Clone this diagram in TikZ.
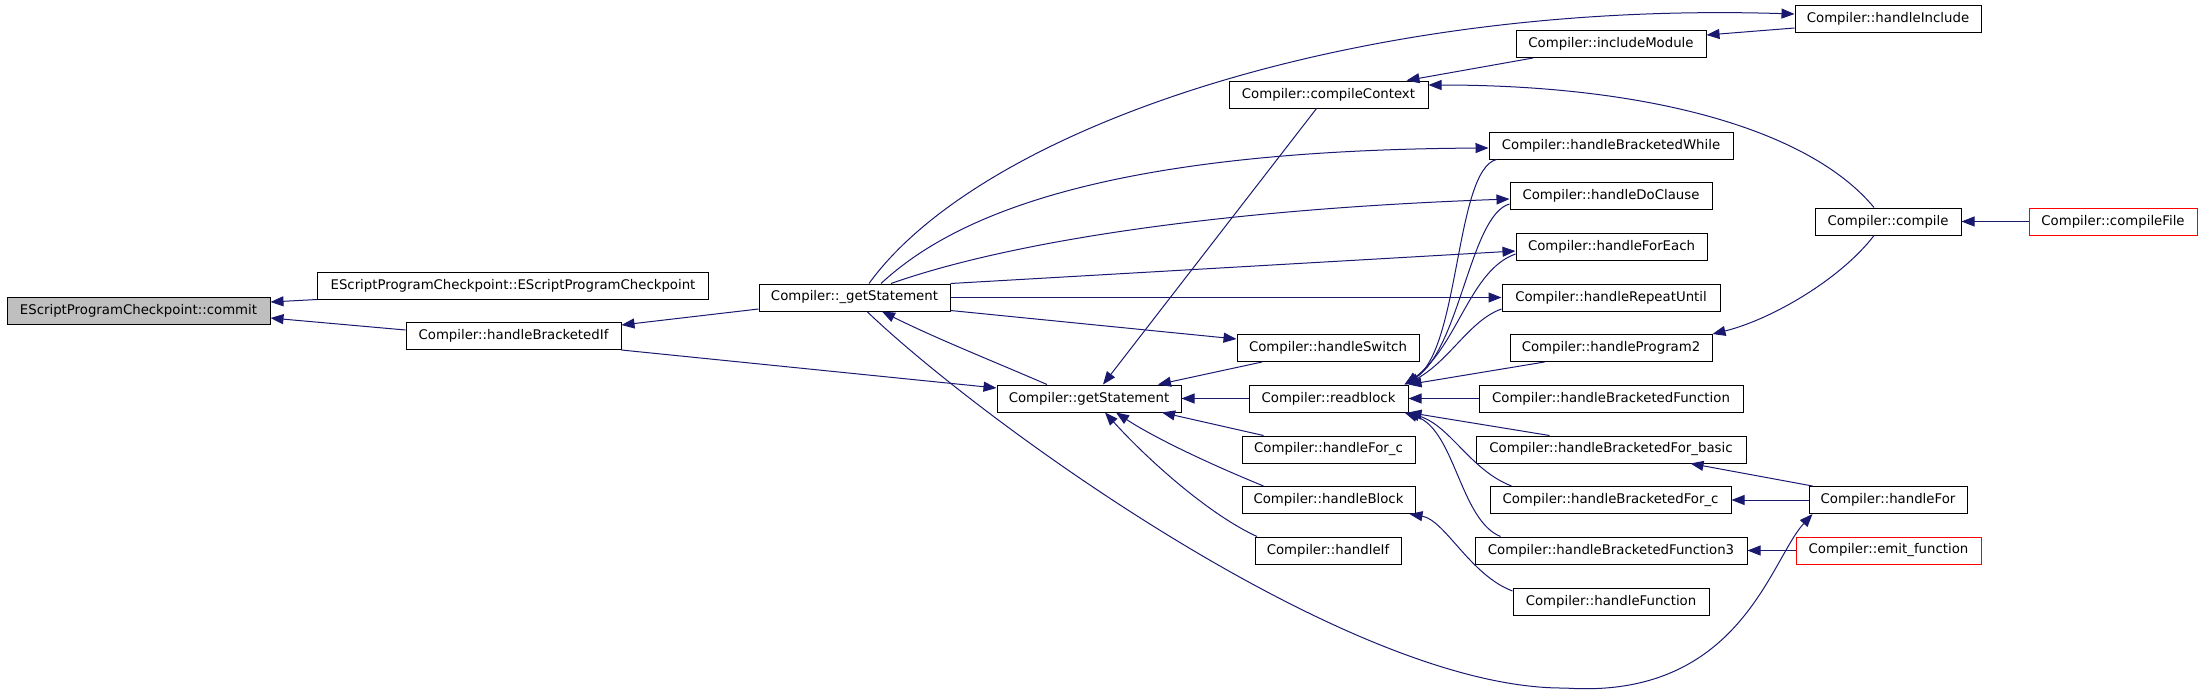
\documentclass[tikz,border=0pt]{standalone}
\usepackage{fontspec}
\setmainfont{DejaVu Sans}
\usetikzlibrary{arrows.meta}
\definecolor{edgec}{HTML}{191970}
\definecolor{boxgray}{HTML}{BFBFBF}
\begin{document}
\begin{tikzpicture}[x=1pt,y=-1pt,
  box/.style={draw=black,line width=1pt,fill=white,minimum height=27pt,inner sep=0pt,font=\fontsize{13.3}{15}\selectfont},
  redbox/.style={box,draw=red},
  edge/.style={draw=edgec,line width=1pt,-{Triangle[length=13pt,width=10pt]}}]
\useasboundingbox (0,0) rectangle (2203,694);
% nodes
\node[box,fill=boxgray,minimum width=263pt] (commit) at (138.5,310.5) {EScriptProgramCheckpoint::commit};
\node[box,minimum width=391pt] (epc) at (513,285.5) {EScriptProgramCheckpoint::EScriptProgramCheckpoint};
\node[box,minimum width=215pt] (hbif) at (513.5,336) {Compiler::handleBracketedIf};
\node[box,minimum width=191pt] (ugs) at (854.5,297.5) {Compiler::\_getStatement};
\node[box,minimum width=184pt] (gs) at (1089,398.5) {Compiler::getStatement};
\node[box,minimum width=199pt] (cctx) at (1328.5,94.5) {Compiler::compileContext};
\node[box,minimum width=190pt] (incmod) at (1611,44) {Compiler::includeModule};
\node[box,minimum width=186pt] (hinc) at (1888,18.5) {Compiler::handleInclude};
\node[box,minimum width=244pt] (hbw) at (1611,145.5) {Compiler::handleBracketedWhile};
\node[box,minimum width=202pt] (hdc) at (1611,196) {Compiler::handleDoClause};
\node[box,minimum width=146pt] (compile) at (1888,221.5) {Compiler::compile};
\node[redbox,minimum width=168pt] (cfile) at (2113,221.5) {Compiler::compileFile};
\node[box,minimum width=191pt] (hfe) at (1611.5,246.5) {Compiler::handleForEach};
\node[box,minimum width=218pt] (hru) at (1611,297.5) {Compiler::handleRepeatUntil};
\node[box,minimum width=202pt] (hp2) at (1611,348) {Compiler::handleProgram2};
\node[box,minimum width=264pt] (hbf) at (1611,398.5) {Compiler::handleBracketedFunction};
\node[box,minimum width=270pt] (hbfb) at (1611,449.5) {Compiler::handleBracketedFor\_basic};
\node[box,minimum width=241pt] (hbfc) at (1610.5,500) {Compiler::handleBracketedFor\_c};
\node[box,minimum width=272pt] (hbf3) at (1611,550.5) {Compiler::handleBracketedFunction3};
\node[box,minimum width=196pt] (hfun) at (1611,601.5) {Compiler::handleFunction};
\node[box,minimum width=182pt] (hsw) at (1328,348) {Compiler::handleSwitch};
\node[box,minimum width=159pt] (rb) at (1328.5,398.5) {Compiler::readblock};
\node[box,minimum width=173pt] (hfc) at (1328.5,449.5) {Compiler::handleFor\_c};
\node[box,minimum width=173pt] (hblk) at (1328.5,500) {Compiler::handleBlock};
\node[box,minimum width=146pt] (hif) at (1328,550.5) {Compiler::handleIf};
\node[box,minimum width=158pt] (hfor) at (1888,500) {Compiler::handleFor};
\node[redbox,minimum width=185pt] (emit) at (1888.5,550.5) {Compiler::emit\_function};
\coordinate (loopbot) at (1565,688);
% edges
\draw[edge] (epc.south west) -- ([yshift=8.5pt]commit.east);
\draw[edge] ([yshift=6pt]hbif.west) -- ([yshift=-7.5pt]commit.east);
\draw[edge] ([yshift=-11.5pt]ugs.west) -- ([yshift=11pt]hbif.east);
\draw[edge] (hbif.south east) -- ([yshift=10.5pt]gs.west);
\draw[edge] ([xshift=-42pt]gs.north) .. controls (995,362) and (935,338) .. ([xshift=27.5pt]ugs.south);
\draw[edge] ([yshift=-13pt]ugs.east) -- ([yshift=9pt]hsw.west);
\draw[edge] ([xshift=-66pt]hsw.south) -- ([xshift=69pt]gs.north);
\draw[edge] (rb.west) -- (gs.east);
\draw[edge] ([xshift=-65pt]hfc.north) -- ([xshift=73pt]gs.south);
\draw[edge] ([xshift=-65pt]hblk.north) .. controls (1200,460) and (1150,435) .. ([xshift=27pt]gs.south);
\draw[edge] ([xshift=-71pt]hif.north) .. controls (1210,515) and (1150,462) .. ([xshift=16pt]gs.south);
\draw[edge] ([xshift=-12pt]cctx.south) -- ([xshift=14pt]gs.north);
\draw[edge] ([xshift=-78pt]incmod.south) -- ([xshift=-22pt]cctx.north east);
\draw[edge] ([xshift=-14pt]compile.north) .. controls (1810,130) and (1650,85) .. ([yshift=9.5pt]cctx.east);
\draw[edge] ([yshift=-9.5pt]hinc.west) -- ([yshift=9pt]incmod.east);
\draw[edge] ([xshift=14.5pt]ugs.north) .. controls (980,130) and (1350,0) .. ([yshift=4.5pt]hinc.west);
\draw[edge] ([xshift=26.5pt]ugs.north) .. controls (960,210) and (1120,150) .. ([yshift=-2.5pt]hbw.west);
\draw[edge] ([xshift=36.5pt]ugs.north) .. controls (1000,245) and (1200,210) .. ([yshift=-3pt]hdc.west);
\draw[edge] (ugs.north east) -- ([yshift=-4.5pt]hfe.west);
\draw[edge] (ugs.east) -- (hru.west);
\draw[edge] ([xshift=12.5pt]ugs.south) .. controls (980,420) and (1350,690) .. (loopbot) .. controls (1740,700) and (1770,560) .. ([xshift=4pt]hfor.south west);
% readblock fan
\draw[edge] ([xshift=8pt]hbw.south west) .. controls (1455,170) and (1460,350) .. ([xshift=-4pt]rb.north east);
\draw[edge] ([yshift=-8pt]hdc.west) .. controls (1470,215) and (1460,350) .. ([xshift=-4pt]rb.north east);
\draw[edge] ([yshift=-7.5pt]hfe.west) .. controls (1470,270) and (1458,345) .. ([xshift=-3pt]rb.north east);
\draw[edge] ([yshift=-11.5pt]hru.west) .. controls (1470,320) and (1450,360) .. ([xshift=-2pt]rb.north east);
\draw[edge] ([xshift=35pt]hp2.south west) -- (rb.north east);
\draw[edge] (hbf.west) -- (rb.east);
\draw[edge] ([xshift=74pt]hbfb.north west) -- (rb.south east);
\draw[edge] ([xshift=22pt]hbfc.north west) .. controls (1470,470) and (1450,425) .. ([xshift=-2pt]rb.south east);
\draw[edge] ([xshift=26pt]hbf3.north west) .. controls (1460,520) and (1455,430) .. ([xshift=-4pt]rb.south east);
\draw[edge] ([yshift=10.5pt]hfun.west) .. controls (1470,575) and (1445,520) .. ([xshift=-6pt]hblk.south east);
\draw[edge] ([xshift=4pt]hfor.north west) -- ([xshift=-56pt]hbfb.south east);
\draw[edge] (hfor.west) -- (hbfc.east);
\draw[edge] (emit.west) -- (hbf3.east);
\draw[edge] (cfile.west) -- (compile.east);
\draw[edge] ([xshift=-14pt]compile.south) .. controls (1840,280) and (1770,320) .. (hp2.north east);
\end{tikzpicture}
\end{document}
